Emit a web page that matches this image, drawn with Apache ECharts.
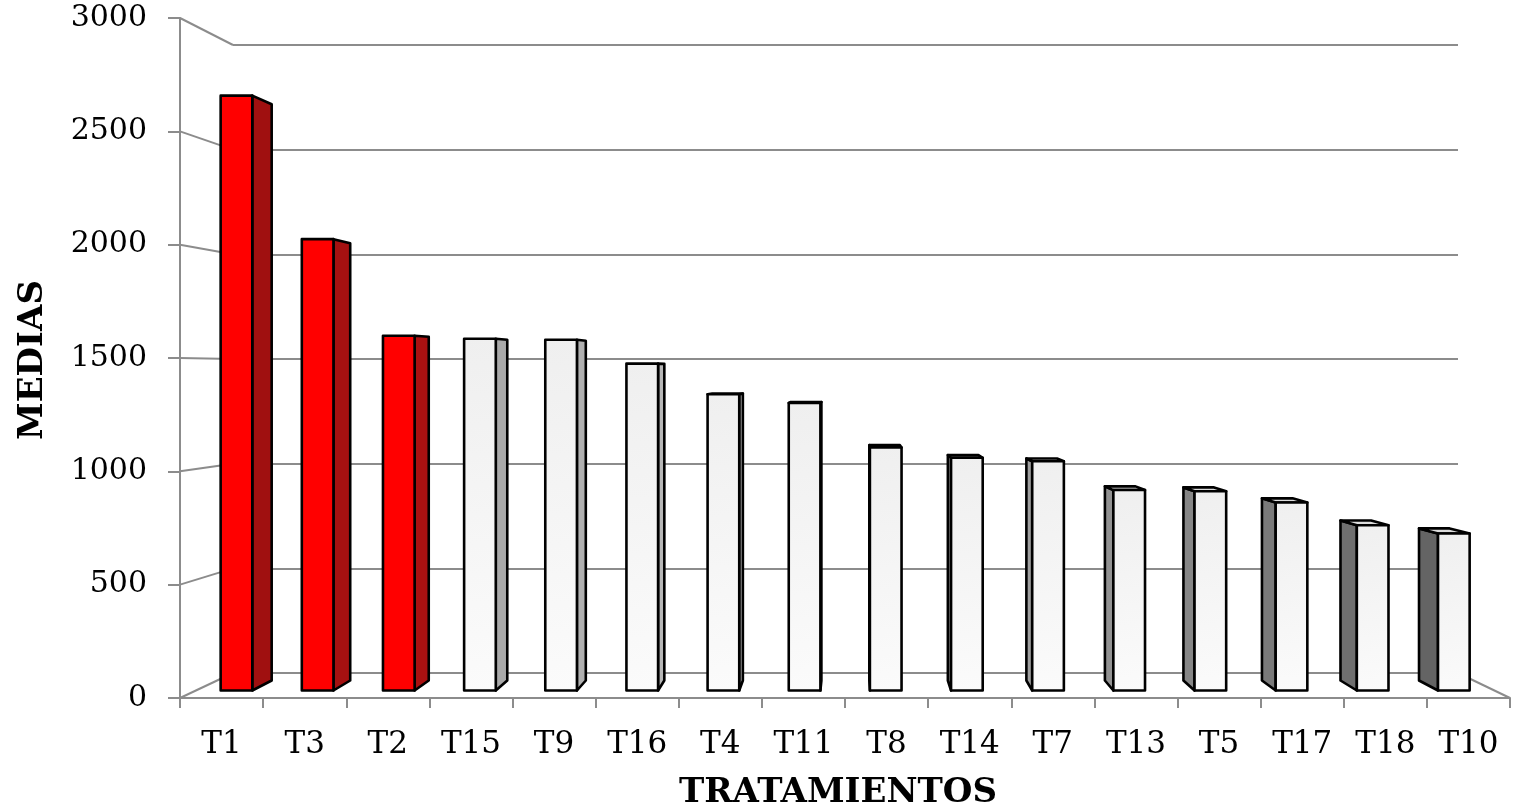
<!DOCTYPE html>
<html>
<head>
<meta charset="utf-8">
<title>Medias por tratamiento</title>
<script src="https://cdn.jsdelivr.net/npm/echarts@6/dist/echarts.min.js"></script>
<style>
  html, body { margin: 0; padding: 0; background: #ffffff; }
  #chart { width: 1515px; height: 812px; }
</style>
</head>
<body>
<div id="chart"></div>
<script>
// Treatment means, sorted from highest to lowest
const tratamientos = ['T1', 'T3', 'T2', 'T15', 'T9', 'T16', 'T4', 'T11', 'T8', 'T14', 'T7', 'T13', 'T5', 'T17', 'T18', 'T10'];
const medias = [2686, 2038, 1602, 1588, 1584, 1476, 1338, 1298, 1097, 1051, 1035, 905, 900, 849, 746, 709];
// Treatments drawn in red
const destacados = ['T1', 'T3', 'T2'];
// Value axis ticks
const marcasEje = [0, 500, 1000, 1500, 2000, 2500, 3000];

// 3-D box: the front plane carries the axes, the back wall carries the gridlines
const FRONT = { left: 180, top: 18, width: 1330, height: 680 };
const BACK = { left: 233, top: 45, width: 1225, height: 628 };
const SX = BACK.width / FRONT.width;
const SY = BACK.height / FRONT.height;
const VPX = (BACK.left - SX * FRONT.left) / (1 - SX);
const VPY = (BACK.top - SY * FRONT.top) / (1 - SY);
// depth t: 0 = front plane, 1 = back wall
function proj(X, Y, t) {
  return [VPX + (X - VPX) * (1 - t * (1 - SX)), VPY + (Y - VPY) * (1 - t * (1 - SY))];
}
const T_FRONT = 0.3, T_BACK = 0.7, BAR_W = 0.39;
const FRAME = '#8c8c8c';
const FRAME_W = 2;

function poly(points, fill) {
  return {
    type: 'polygon',
    shape: { points: points },
    style: { fill: fill, stroke: '#000', lineWidth: 2.6, lineJoin: 'round' }
  };
}
function grey(l) { l = Math.round(l); return 'rgb(' + l + ',' + l + ',' + l + ')'; }

function renderBar(params, api) {
  const i = api.value(0), v = api.value(1);
  const base = api.coord([i, 0]);
  const top = api.coord([i, v]);
  const w = api.size([1, 0])[0] * BAR_W;
  const XL = base[0] - w / 2, XR = base[0] + w / 2;
  const Y0 = base[1], Y1 = top[1];
  const red = destacados.indexOf(tratamientos[i]) >= 0;
  const d = Math.min(1, Math.abs(base[0] - VPX) / 620);
  const children = [];

  if (XR < VPX - 6) {
    let c;
    if (red) { const r = Math.round(200 - 40 * d); c = 'rgb(' + r + ',' + Math.round(r * 0.1) + ',' + Math.round(r * 0.1) + ')'; }
    else c = grey(200 - 50 * d);
    children.push(poly([proj(XR, Y1, T_FRONT), proj(XR, Y1, T_BACK), proj(XR, Y0, T_BACK), proj(XR, Y0, T_FRONT)], c));
  }
  if (XL > VPX + 6) {
    const c = red ? '#a01010' : grey(200 - 100 * Math.pow(d, 0.8));
    children.push(poly([proj(XL, Y1, T_FRONT), proj(XL, Y1, T_BACK), proj(XL, Y0, T_BACK), proj(XL, Y0, T_FRONT)], c));
  }
  if (Y1 > VPY) {
    children.push(poly([proj(XL, Y1, T_FRONT), proj(XR, Y1, T_FRONT), proj(XR, Y1, T_BACK), proj(XL, Y1, T_BACK)], red ? '#c00000' : '#dcdcdc'));
  }
  const frontFill = red ? '#ff0000' : {
    type: 'linear', x: 0, y: 0, x2: 1, y2: 1,
    colorStops: [{ offset: 0, color: '#efefef' }, { offset: 1, color: '#fbfbfb' }]
  };
  children.push(poly([proj(XL, Y1, T_FRONT), proj(XR, Y1, T_FRONT), proj(XR, Y0, T_FRONT), proj(XL, Y0, T_FRONT)], frontFill));
  return { type: 'group', children: children };
}

// Side-wall and floor edges joining the front axis to the back wall
function renderFrame(params, api) {
  const v = api.value(1);
  const Y = api.coord([0, v])[1];
  const cs = params.coordSys;
  const seg = (a, b) => ({
    type: 'line',
    shape: { x1: a[0], y1: a[1], x2: b[0], y2: b[1] },
    style: { stroke: FRAME, lineWidth: FRAME_W }
  });
  const children = [seg(proj(cs.x, Y, 0), proj(cs.x, Y, 1))];
  if (v === marcasEje[0]) {
    children.push(seg(proj(cs.x + cs.width, Y, 0), proj(cs.x + cs.width, Y, 1)));
  }
  return { type: 'group', children: children };
}

const FONT = 'DejaVu Serif';
const chart = echarts.init(document.getElementById('chart'), null, { renderer: 'canvas' });
chart.setOption({
  animation: false,
  backgroundColor: '#ffffff',
  grid: [
    { left: FRONT.left, top: FRONT.top, width: FRONT.width, height: FRONT.height, containLabel: false },
    { left: BACK.left, top: BACK.top, width: BACK.width, height: BACK.height, containLabel: false }
  ],
  xAxis: [
    {
      type: 'category', gridIndex: 0, data: tratamientos, boundaryGap: true,
      axisLine: { show: true, lineStyle: { color: FRAME, width: FRAME_W } },
      axisTick: { show: true, length: 10, interval: 0, lineStyle: { color: FRAME, width: FRAME_W } },
      axisLabel: { interval: 0, margin: 31, color: '#000', fontFamily: FONT, fontSize: 31 },
      splitLine: { show: false }
    },
    {
      type: 'category', gridIndex: 1, data: tratamientos, show: false
    }
  ],
  yAxis: [
    {
      type: 'value', gridIndex: 0, min: marcasEje[0], max: marcasEje[marcasEje.length - 1], interval: 500,
      axisLine: { show: true, lineStyle: { color: FRAME, width: FRAME_W } },
      axisTick: { show: true, length: 12, lineStyle: { color: FRAME, width: FRAME_W } },
      axisLabel: { margin: 33, color: '#000', fontFamily: FONT, fontSize: 30, formatter: v => String(v) },
      splitLine: { show: false }
    },
    {
      type: 'value', gridIndex: 1, min: marcasEje[0], max: marcasEje[marcasEje.length - 1], interval: 500,
      axisLine: { show: false }, axisTick: { show: false }, axisLabel: { show: false },
      splitLine: { show: true, lineStyle: { color: FRAME, width: FRAME_W } }
    }
  ],
  graphic: [
    {
      type: 'text', x: 33, y: 360, rotation: Math.PI / 2,
      style: { text: 'MEDIAS', fontFamily: FONT, fontWeight: 'bold', fontSize: 34, fill: '#000', align: 'center', verticalAlign: 'middle' }
    },
    {
      type: 'text', x: 838, y: 793,
      style: { text: 'TRATAMIENTOS', fontFamily: FONT, fontWeight: 'bold', fontSize: 34, fill: '#000', align: 'center', verticalAlign: 'middle' }
    }
  ],
  series: [
    {
      type: 'custom', name: 'marco', xAxisIndex: 0, yAxisIndex: 0, clip: false, z: 1,
      renderItem: renderFrame,
      data: marcasEje.map(v => [0, v]),
      silent: true
    },
    {
      type: 'custom', name: 'Medias', xAxisIndex: 0, yAxisIndex: 0, clip: false, z: 5,
      renderItem: renderBar,
      encode: { x: 0, y: 1 },
      data: medias.map((v, i) => [i, v])
    }
  ]
});
</script>
</body>
</html>
